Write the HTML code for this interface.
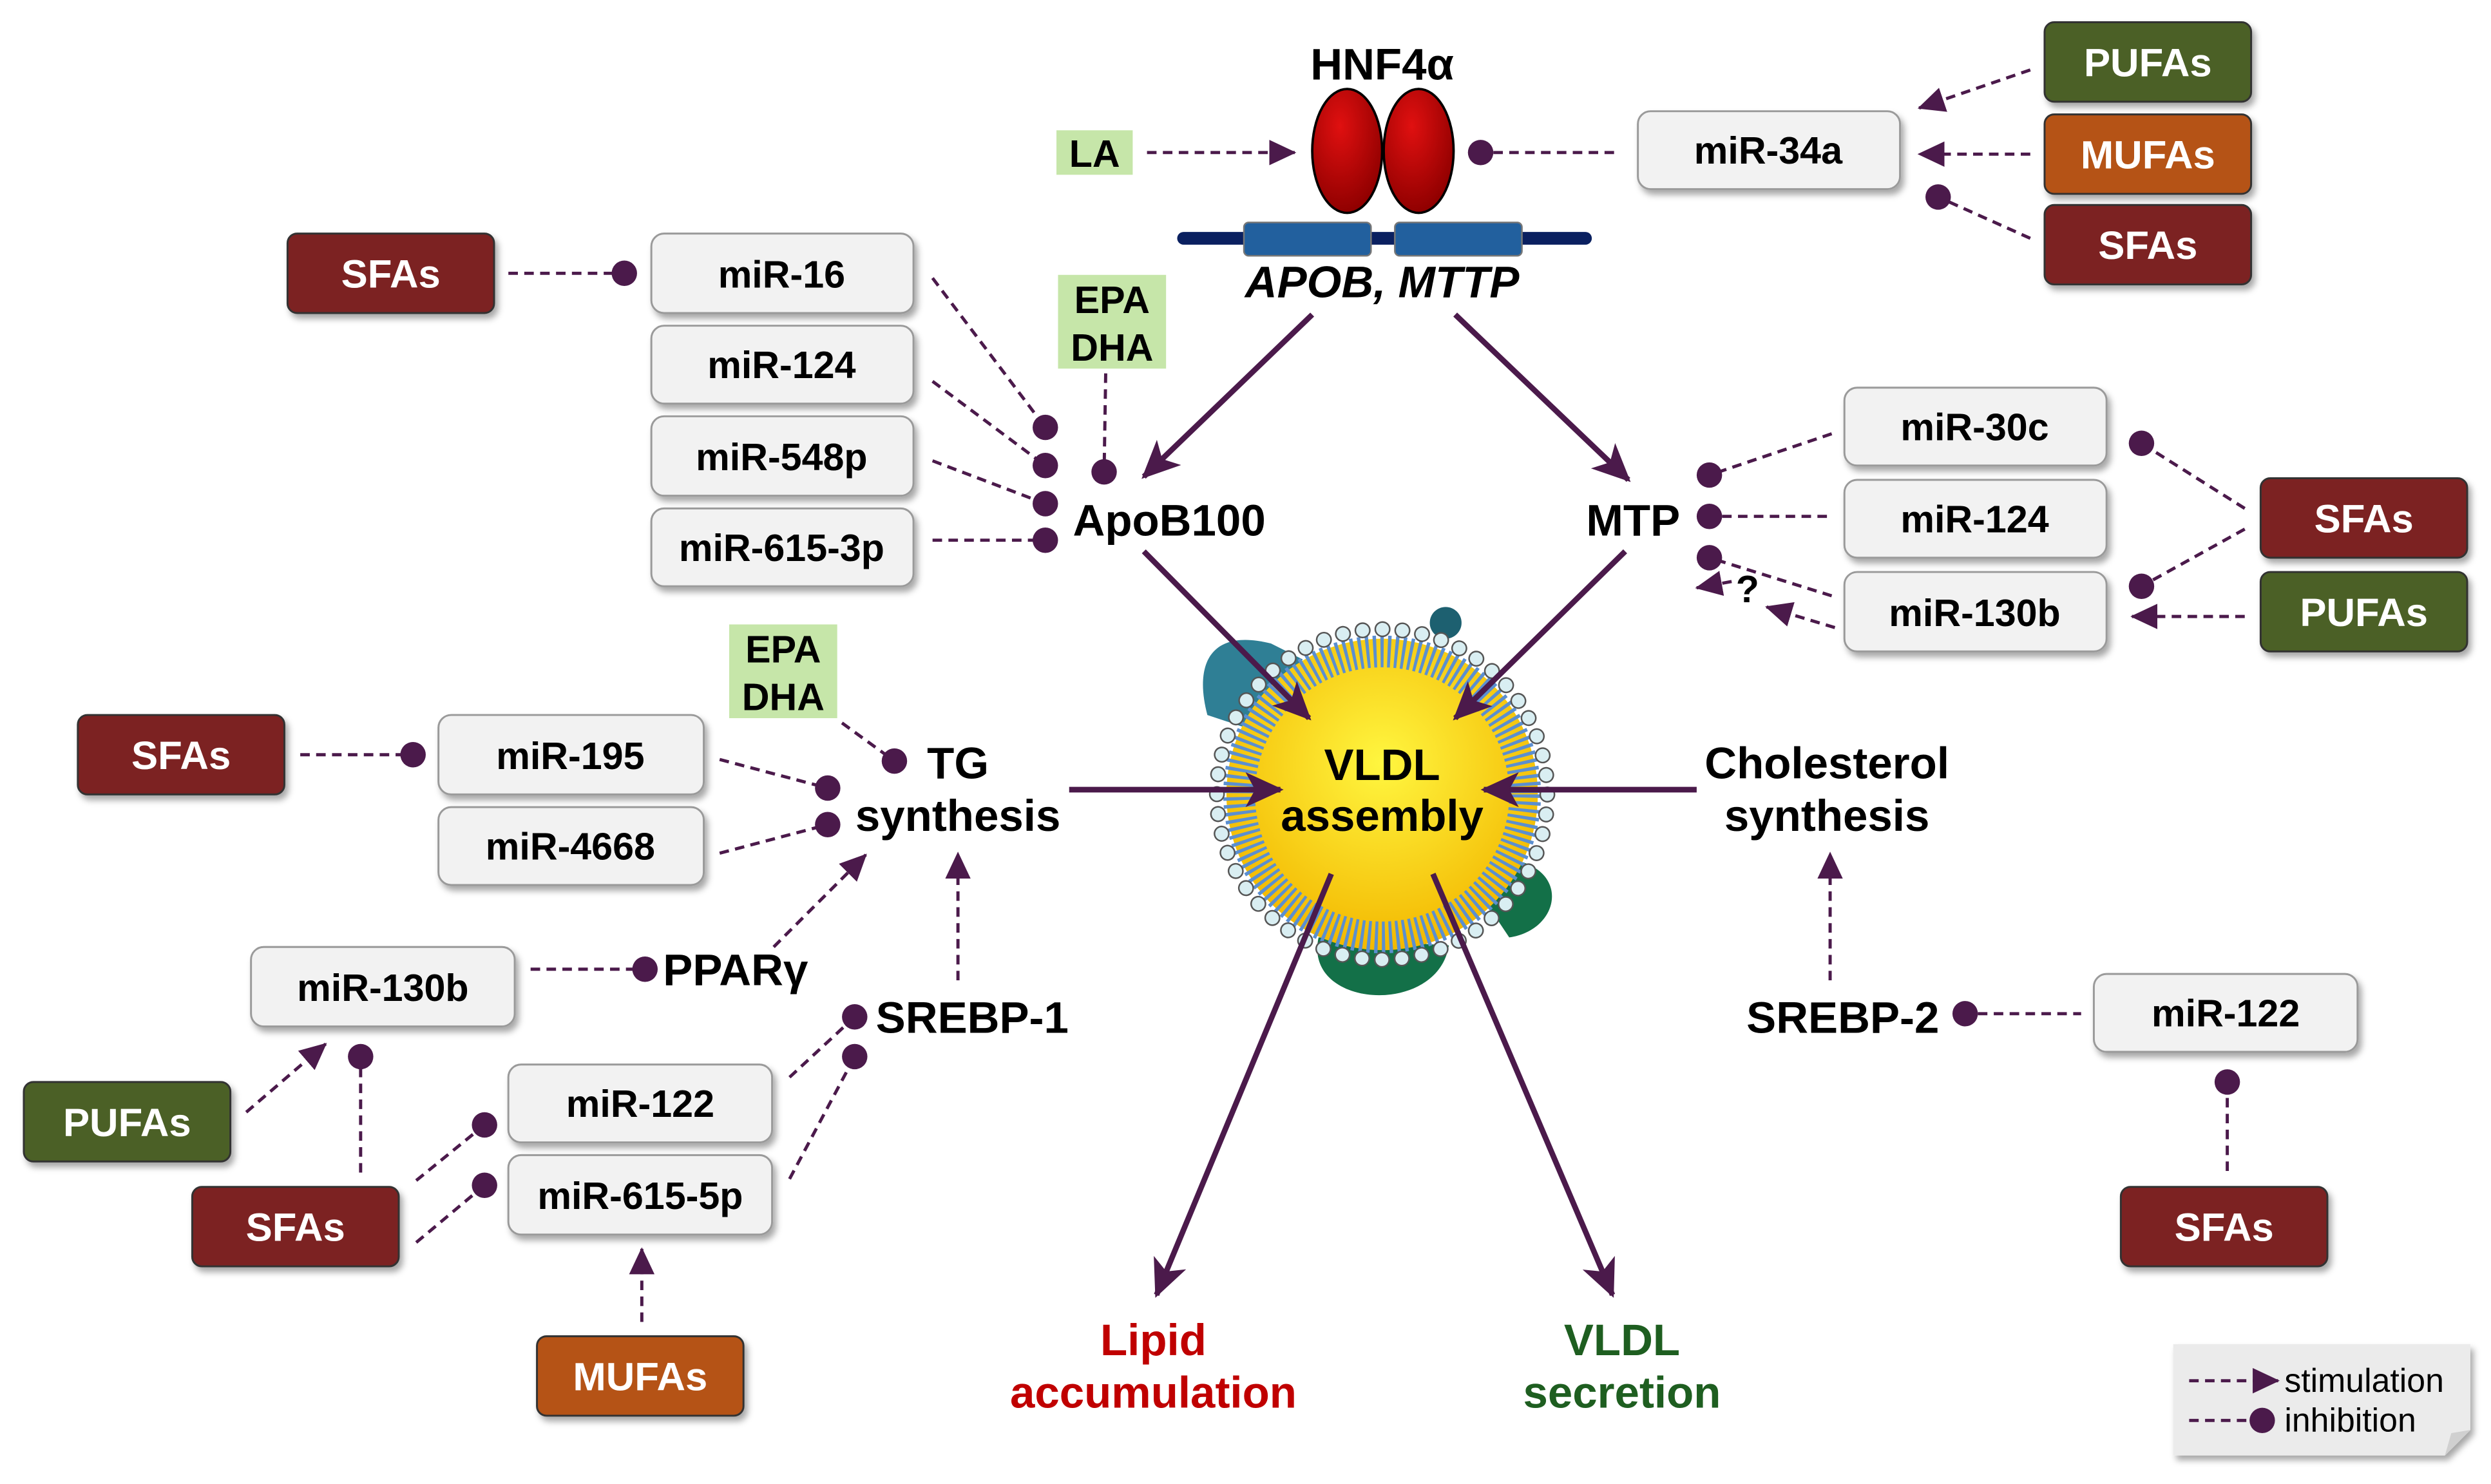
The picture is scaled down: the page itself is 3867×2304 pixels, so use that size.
<!DOCTYPE html>
<html><head><meta charset="utf-8"><style>
html,body{margin:0;padding:0;background:#fff}
svg{display:block}
text{font-family:"Liberation Sans",Arial,sans-serif;font-weight:bold}
</style></head><body>
<svg width="3867" height="2304" viewBox="0 0 1568 934" preserveAspectRatio="none" xmlns="http://www.w3.org/2000/svg">
<defs>
<marker id="a" markerUnits="userSpaceOnUse" markerWidth="18" markerHeight="16" refX="16" refY="8" orient="auto"><path d="M0,0 L17,8 L0,16 Z" fill="#4b1a4b"/></marker>
<marker id="s" markerUnits="userSpaceOnUse" markerWidth="26" markerHeight="22" refX="22" refY="11" orient="auto"><path d="M0,0 L24,11 L0,22 L6,11 Z" fill="#4b1a4b"/></marker>
<radialGradient id="ry" cx="50%" cy="40%" r="60%"><stop offset="0" stop-color="#fff640"/><stop offset="1" stop-color="#f3b800"/></radialGradient>
<radialGradient id="rr" cx="40%" cy="30%" r="70%"><stop offset="0" stop-color="#e01010"/><stop offset="1" stop-color="#900000"/></radialGradient>
<filter id="sh" x="-10%" y="-10%" width="130%" height="140%"><feDropShadow dx="2" dy="3" stdDeviation="2" flood-color="#000" flood-opacity="0.35"/></filter>
</defs>
<g stroke="#4b1a4b" stroke-width="2" stroke-dasharray="6,4" fill="none">
<line x1="722" y1="96" x2="815" y2="96" marker-end="url(#a)"/>
<line x1="940" y1="96" x2="1020" y2="96"/>
<line x1="1278" y1="44" x2="1208" y2="68" marker-end="url(#a)"/>
<line x1="1278" y1="97" x2="1208" y2="97" marker-end="url(#a)"/>
<line x1="1278" y1="150" x2="1220" y2="124"/>
<line x1="320" y1="172" x2="393" y2="172"/>
<line x1="587" y1="175" x2="658" y2="269"/>
<line x1="587" y1="240" x2="658" y2="293"/>
<line x1="587" y1="290" x2="658" y2="317"/>
<line x1="587" y1="340" x2="658" y2="340"/>
<line x1="696" y1="235" x2="695" y2="297"/>
<line x1="1153" y1="273" x2="1076" y2="299"/>
<line x1="1150" y1="325" x2="1076" y2="325"/>
<line x1="1153" y1="375" x2="1076" y2="351"/>
<line x1="1090" y1="366" x2="1068" y2="370" marker-end="url(#a)"/>
<line x1="1155" y1="395" x2="1112" y2="382" marker-end="url(#a)"/>
<line x1="1413" y1="320" x2="1348" y2="279"/>
<line x1="1413" y1="333" x2="1348" y2="369"/>
<line x1="1413" y1="388" x2="1342" y2="388" marker-end="url(#a)"/>
<line x1="530" y1="455" x2="563" y2="479"/>
<line x1="189" y1="475" x2="260" y2="475"/>
<line x1="453" y1="478" x2="521" y2="496"/>
<line x1="453" y1="537" x2="521" y2="519"/>
<line x1="487" y1="596" x2="545" y2="538" marker-end="url(#a)"/>
<line x1="334" y1="610" x2="406" y2="610"/>
<line x1="603" y1="617" x2="603" y2="537" marker-end="url(#a)"/>
<line x1="155" y1="700" x2="205" y2="657" marker-end="url(#a)"/>
<line x1="227" y1="738" x2="227" y2="665"/>
<line x1="262" y1="743" x2="305" y2="708"/>
<line x1="262" y1="782" x2="305" y2="746"/>
<line x1="497" y1="678" x2="538" y2="640"/>
<line x1="497" y1="742" x2="538" y2="665"/>
<line x1="404" y1="832" x2="404" y2="786" marker-end="url(#a)"/>
<line x1="1152" y1="617" x2="1152" y2="537" marker-end="url(#a)"/>
<line x1="1245" y1="638" x2="1310" y2="638"/>
<line x1="1402" y1="681" x2="1402" y2="738"/>
</g>
<g fill="#4b1a4b">
<circle cx="932" cy="96" r="8"/><circle cx="1220" cy="124" r="8"/><circle cx="393" cy="172" r="8"/>
<circle cx="658" cy="269" r="8"/><circle cx="658" cy="293" r="8"/><circle cx="658" cy="317" r="8"/><circle cx="658" cy="340" r="8"/><circle cx="695" cy="297" r="8"/>
<circle cx="1076" cy="299" r="8"/><circle cx="1076" cy="325" r="8"/><circle cx="1076" cy="351" r="8"/>
<circle cx="1348" cy="279" r="8"/><circle cx="1348" cy="369" r="8"/>
<circle cx="563" cy="479" r="8"/><circle cx="260" cy="475" r="8"/><circle cx="521" cy="496" r="8"/><circle cx="521" cy="519" r="8"/>
<circle cx="406" cy="610" r="8"/><circle cx="227" cy="665" r="8"/><circle cx="305" cy="708" r="8"/><circle cx="305" cy="746" r="8"/>
<circle cx="538" cy="640" r="8"/><circle cx="538" cy="665" r="8"/><circle cx="1237" cy="638" r="8"/><circle cx="1402" cy="681" r="8"/>
</g>
<!-- HNF4a -->
<text x="870" y="50" font-size="28" text-anchor="middle">HNF4α</text>
<line x1="745" y1="150" x2="998" y2="150" stroke="#0a2060" stroke-width="8" stroke-linecap="round"/>
<rect x="783" y="140" width="80" height="21" rx="3" fill="#22609e" stroke="#777"/>
<rect x="878" y="140" width="80" height="21" rx="3" fill="#22609e" stroke="#777"/>
<ellipse cx="848" cy="95" rx="22" ry="39" fill="url(#rr)" stroke="#000" stroke-width="1.5"/>
<ellipse cx="893" cy="95" rx="22" ry="39" fill="url(#rr)" stroke="#000" stroke-width="1.5"/>
<text x="870" y="187" font-size="28" font-style="italic" text-anchor="middle">APOB, MTTP</text>
<!-- VLDL -->
<path d="M800,405 C760,395 752,420 760,450 L790,460 L820,415 Z" fill="#2f7f95"/>
<circle cx="910" cy="392" r="10" fill="#1d6070"/>
<path d="M940,540 C990,540 985,585 950,590 L930,560 Z" fill="#137048"/>
<path d="M830,590 C820,635 905,640 912,595 Z" fill="#137048"/>
<circle cx="870" cy="500" r="98" fill="url(#ry)"/>
<circle cx="870" cy="500" r="90" fill="none" stroke="#5b8fd0" stroke-width="20" stroke-dasharray="2,2.5"/>
<circle cx="870" cy="500" r="104" fill="none" stroke="#555" stroke-width="10" stroke-linecap="round" stroke-dasharray="0.1,12.47"/>
<circle cx="870" cy="500" r="104" fill="none" stroke="#d9eef2" stroke-width="8" stroke-linecap="round" stroke-dasharray="0.1,12.47"/>
<text x="870" y="491" font-size="28" text-anchor="middle">VLDL</text>
<text x="870" y="523" font-size="28" text-anchor="middle">assembly</text>
<!-- solid arrows -->
<g stroke="#4b1a4b" stroke-width="3.5" fill="none">
<line x1="826" y1="198" x2="720" y2="300" marker-end="url(#s)"/>
<line x1="916" y1="198" x2="1025" y2="302" marker-end="url(#s)"/>
<line x1="720" y1="347" x2="824" y2="452" marker-end="url(#s)"/>
<line x1="1023" y1="347" x2="916" y2="452" marker-end="url(#s)"/>
<line x1="673" y1="497" x2="806" y2="497" marker-end="url(#s)"/>
<line x1="1068" y1="497" x2="934" y2="497" marker-end="url(#s)"/>
<line x1="838" y1="550" x2="728" y2="815" marker-end="url(#s)"/>
<line x1="902" y1="550" x2="1015" y2="815" marker-end="url(#s)"/>
</g>
<!-- gray boxes -->
<g fill="#f2f2f2" stroke="#9a9a9a" stroke-width="1.2" filter="url(#sh)">
<rect x="1031" y="70" width="165" height="49" rx="8"/>
<rect x="410" y="147" width="165" height="50" rx="8"/>
<rect x="410" y="205" width="165" height="49" rx="8"/>
<rect x="410" y="262" width="165" height="50" rx="8"/>
<rect x="410" y="320" width="165" height="49" rx="8"/>
<rect x="1161" y="244" width="165" height="49" rx="8"/>
<rect x="1161" y="302" width="165" height="49" rx="8"/>
<rect x="1161" y="360" width="165" height="50" rx="8"/>
<rect x="276" y="450" width="167" height="50" rx="8"/>
<rect x="276" y="508" width="167" height="49" rx="8"/>
<rect x="158" y="596" width="166" height="50" rx="8"/>
<rect x="320" y="670" width="166" height="49" rx="8"/>
<rect x="320" y="727" width="166" height="50" rx="8"/>
<rect x="1318" y="613" width="166" height="49" rx="8"/>
</g>
<g font-size="24" text-anchor="middle">
<text x="1113" y="103">miR-34a</text>
<text x="492" y="181">miR-16</text>
<text x="492" y="238">miR-124</text>
<text x="492" y="296">miR-548p</text>
<text x="492" y="353">miR-615-3p</text>
<text x="1243" y="277">miR-30c</text>
<text x="1243" y="335">miR-124</text>
<text x="1243" y="394">miR-130b</text>
<text x="359" y="484">miR-195</text>
<text x="359" y="541">miR-4668</text>
<text x="241" y="630">miR-130b</text>
<text x="403" y="703">miR-122</text>
<text x="403" y="761">miR-615-5p</text>
<text x="1401" y="646">miR-122</text>
</g>
<!-- colored boxes -->
<g stroke="#333" stroke-width="1.2" filter="url(#sh)">
<rect x="1287" y="14" width="130" height="50" rx="6" fill="#4c6125"/>
<rect x="1287" y="72" width="130" height="50" rx="6" fill="#b55314"/>
<rect x="1287" y="129" width="130" height="50" rx="6" fill="#7b2020"/>
<rect x="181" y="147" width="130" height="50" rx="6" fill="#7b2020"/>
<rect x="1423" y="301" width="130" height="50" rx="6" fill="#7b2020"/>
<rect x="1423" y="360" width="130" height="50" rx="6" fill="#4c6125"/>
<rect x="49" y="450" width="130" height="50" rx="6" fill="#7b2020"/>
<rect x="15" y="681" width="130" height="50" rx="6" fill="#4c6125"/>
<rect x="121" y="747" width="130" height="50" rx="6" fill="#7b2020"/>
<rect x="338" y="841" width="130" height="50" rx="6" fill="#b55314"/>
<rect x="1335" y="747" width="130" height="50" rx="6" fill="#7b2020"/>
</g>
<g font-size="25" text-anchor="middle" fill="#fff">
<text x="1352" y="48">PUFAs</text>
<text x="1352" y="106">MUFAs</text>
<text x="1352" y="163">SFAs</text>
<text x="246" y="181">SFAs</text>
<text x="1488" y="335">SFAs</text>
<text x="1488" y="394">PUFAs</text>
<text x="114" y="484">SFAs</text>
<text x="80" y="715">PUFAs</text>
<text x="186" y="781">SFAs</text>
<text x="403" y="875">MUFAs</text>
<text x="1400" y="781">SFAs</text>
</g>
<!-- green label boxes -->
<g fill="#c6e6a9">
<rect x="665" y="82" width="48" height="28"/>
<rect x="666" y="173" width="68" height="59"/>
<rect x="459" y="393" width="68" height="59"/>
</g>
<g font-size="24" text-anchor="middle">
<text x="689" y="105">LA</text>
<text x="700" y="197">EPA</text><text x="700" y="227">DHA</text>
<text x="493" y="417">EPA</text><text x="493" y="447">DHA</text>
</g>
<g font-size="28" text-anchor="middle">
<text x="736" y="337">ApoB100</text>
<text x="1028" y="337">MTP</text>
<text x="1100" y="379" font-size="24">?</text>
<text x="603" y="490">TG</text><text x="603" y="523">synthesis</text>
<text x="1150" y="490">Cholesterol</text><text x="1150" y="523">synthesis</text>
<text x="463" y="620">PPARγ</text>
<text x="612" y="650">SREBP-1</text>
<text x="1160" y="650">SREBP-2</text>
<text x="726" y="853" fill="#c00000">Lipid</text><text x="726" y="886" fill="#c00000">accumulation</text>
<text x="1021" y="853" fill="#1e5e20">VLDL</text><text x="1021" y="886" fill="#1e5e20">secretion</text>
</g>
<!-- legend -->
<path d="M1368,846 H1555 V900 L1539,916 H1368 Z" fill="#ebebeb" filter="url(#sh)"/>
<path d="M1539,916 L1543,902 L1555,900 Z" fill="#d0d0d0"/>
<g stroke="#4b1a4b" stroke-width="2" stroke-dasharray="6,4" fill="none">
<line x1="1378" y1="869" x2="1434" y2="869" marker-end="url(#a)"/>
<line x1="1378" y1="894" x2="1420" y2="894"/>
</g>
<circle cx="1424" cy="894" r="8" fill="#4b1a4b"/>
<text x="1438" y="876" font-size="21" style="font-weight:normal">stimulation</text>
<text x="1438" y="901" font-size="21" style="font-weight:normal">inhibition</text>
</svg>
</body></html>
